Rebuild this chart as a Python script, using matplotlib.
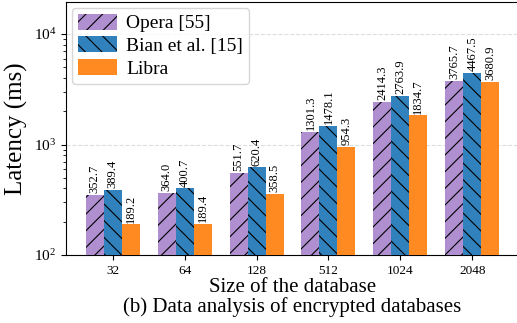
import numpy as np
import matplotlib
matplotlib.use("Agg")
import matplotlib.pyplot as plt

plt.rcParams['font.family'] = ['Liberation Serif', 'DejaVu Serif']
plt.rcParams['mathtext.fontset'] = 'stix'
plt.rcParams['hatch.linewidth'] = 0.8

sizes = ["32", "64", "128", "512", "1024", "2048"]
opera = [352.7, 364.0, 551.7, 1301.3, 2414.3, 3765.7]
bian = [389.4, 400.7, 620.4, 1478.1, 2763.9, 4467.5]
libra = [189.2, 189.4, 358.5, 954.3, 1834.7, 3680.9]

fig = plt.figure(figsize=(5.17, 3.23), dpi=100)
ax = fig.add_axes([66 / 517, 1 - 255 / 323, (519 - 66) / 517, (255 - 2) / 323])

x = np.arange(len(sizes))
w = 0.25
series = [
    (opera, "Opera [55]", "#b08fd0", "//"),
    (bian, "Bian et al. [15]", "#3181bd", "\\\\"),
    (libra, "Libra", "#fe8a21", None),
]
for i, (vals, name, col, hatch) in enumerate(series):
    pos = x + (i - 1) * w
    ax.bar(pos, vals, w, label=name, color=col, hatch=hatch,
           edgecolor="black" if hatch else col, linewidth=0, zorder=3)
    for p, v in zip(pos, vals):
        ax.text(p, v * 1.04, "%.1f" % v, rotation=90, ha="center",
                va="bottom", fontsize=9, zorder=4)

ax.set_yscale("log")
ax.set_ylim(100, 1.95e4)
ax.set_xlim(-0.65, len(sizes) - 0.35)
ax.set_xticks(x)
ax.set_xticklabels(sizes, fontsize=9.5)
ax.tick_params(axis="y", labelsize=11)
ax.yaxis.grid(True, which="major", linestyle="--", color="#dddddd", linewidth=0.8, zorder=0)
ax.set_axisbelow(True)

ax.set_ylabel("Latency (ms)", fontsize=18)
ax.set_xlabel("Size of the database\n(b) Data analysis of encrypted databases",
              fontsize=15, labelpad=1, linespacing=1.0)
ax.legend(loc="upper left", fontsize=14, handlelength=2.0, handleheight=0.9,
          borderpad=0.3, labelspacing=0.2, handletextpad=0.5, borderaxespad=0.3)

fig.savefig("out.png", dpi=100)
